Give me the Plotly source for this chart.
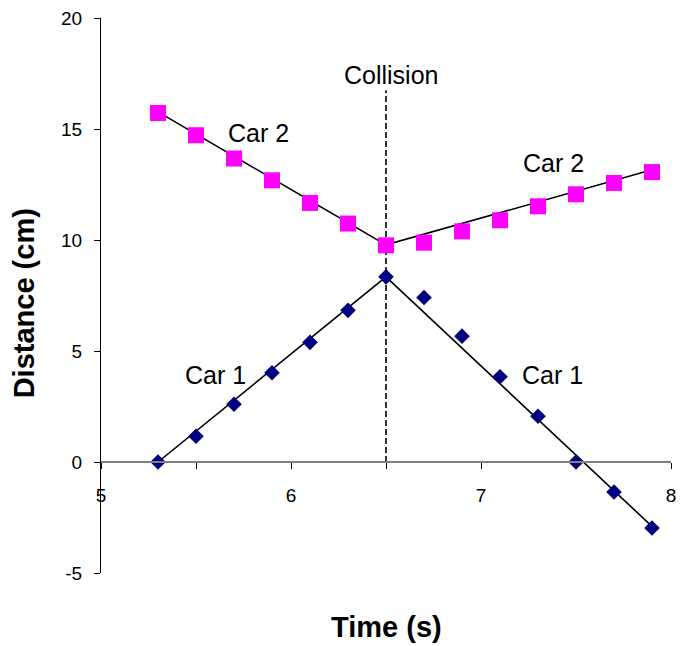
import plotly.graph_objects as go

# Data
time_s = [5.3, 5.5, 5.7, 5.9, 6.1, 6.3, 6.5, 6.7, 6.9, 7.1, 7.3, 7.5, 7.7, 7.9]
car1_cm = [0.0, 1.16, 2.6, 4.02, 5.39, 6.83, 8.34, 7.41, 5.67, 3.84, 2.06, 0.0, -1.35, -2.97]
car2_cm = [15.72, 14.72, 13.67, 12.69, 11.67, 10.74, 9.76, 9.88, 10.39, 10.89, 11.52, 12.06, 12.57, 13.06]

fit_t = [5.3, 6.5, 7.9]
car1_fit = [0.0, 8.34, -2.9]
car2_fit = [15.77, 9.78, 13.16]

collision_t = [6.5, 6.5]
collision_y = [0, 16.75]

x_ticks = [5, 6, 7, 8]
x_tick_text = ["5", "6", "7", "8"]
y_ticks = [-5, 0, 5, 10, 15, 20]
y_tick_text = ["-5", "0", "5", "10", "15", "20"]

FONT = "Liberation Sans, Arial, sans-serif"

fig = go.Figure()

fig.add_trace(go.Scatter(x=collision_t, y=collision_y, mode="lines",
                         line=dict(color="black", width=1.6, dash="6px,3px"),
                         hoverinfo="skip", showlegend=False))
fig.add_trace(go.Scatter(x=fit_t, y=car1_fit, mode="lines",
                         line=dict(color="black", width=1.6), showlegend=False))
fig.add_trace(go.Scatter(x=fit_t, y=car2_fit, mode="lines",
                         line=dict(color="black", width=1.6), showlegend=False))
fig.add_trace(go.Scatter(x=time_s, y=car2_cm, mode="markers", name="Car 2",
                         marker=dict(symbol="square", size=16, color="#FF00FF",
                                     line=dict(width=0)),
                         showlegend=False, cliponaxis=False))
fig.add_trace(go.Scatter(x=time_s, y=car1_cm, mode="markers", name="Car 1",
                         marker=dict(symbol="diamond", size=12, color="#000080",
                                     line=dict(width=0)),
                         showlegend=False, cliponaxis=False))

ann_font = dict(family=FONT, size=25, color="black")
labels = [
    ("Collision", 6.528, 17.45),
    ("Car 2", 5.83, 14.82),
    ("Car 2", 7.38, 13.47),
    ("Car 1", 5.60, 3.91),
    ("Car 1", 7.375, 3.91),
]
for text, x, y in labels:
    fig.add_annotation(x=x, y=y, xref="x", yref="y", text=text, showarrow=False,
                       font=ann_font, xanchor="center", yanchor="middle")

fig.add_annotation(x=0.5, y=-0.098, xref="paper", yref="paper", text="<b>Time (s)</b>",
                   showarrow=False, font=dict(family=FONT, size=29, color="black"),
                   xanchor="center", yanchor="middle")
fig.add_annotation(x=-0.135, y=0.486, xref="paper", yref="paper", text="<b>Distance (cm)</b>",
                   showarrow=False, textangle=-90,
                   font=dict(family=FONT, size=29, color="black"),
                   xanchor="center", yanchor="middle")

fig.update_layout(
    width=678, height=638,
    margin=dict(l=93, r=15, t=10, b=73, autoexpand=False),
    paper_bgcolor="white", plot_bgcolor="white",
    font=dict(family=FONT, size=19, color="black"),
    showlegend=False,
    xaxis=dict(range=[5, 8], tickvals=x_ticks, ticktext=x_tick_text,
               showgrid=False, zeroline=False, automargin=False,
               showline=True, linecolor="#808080", linewidth=2,
               ticks="outside", ticklen=6, tickcolor="black", tickwidth=1,
               anchor="free", position=0.2, ticklabelstandoff=10,
               ticklabeloverflow="allow",
               minor=dict(dtick=0.5, tick0=5, ticks="outside", ticklen=6,
                          tickcolor="black", tickwidth=1, showgrid=False),
               tickfont=dict(family=FONT, size=19, color="black")),
    yaxis=dict(range=[-5, 20], tickvals=y_ticks, ticktext=y_tick_text,
               showgrid=False, zeroline=False, automargin=False,
               showline=True, linecolor="black", linewidth=1,
               ticks="outside", ticklen=6, tickcolor="black", tickwidth=1,
               ticklabelstandoff=8, ticklabeloverflow="allow",
               tickfont=dict(family=FONT, size=19, color="black")),
)

fig.write_html("out.html")
